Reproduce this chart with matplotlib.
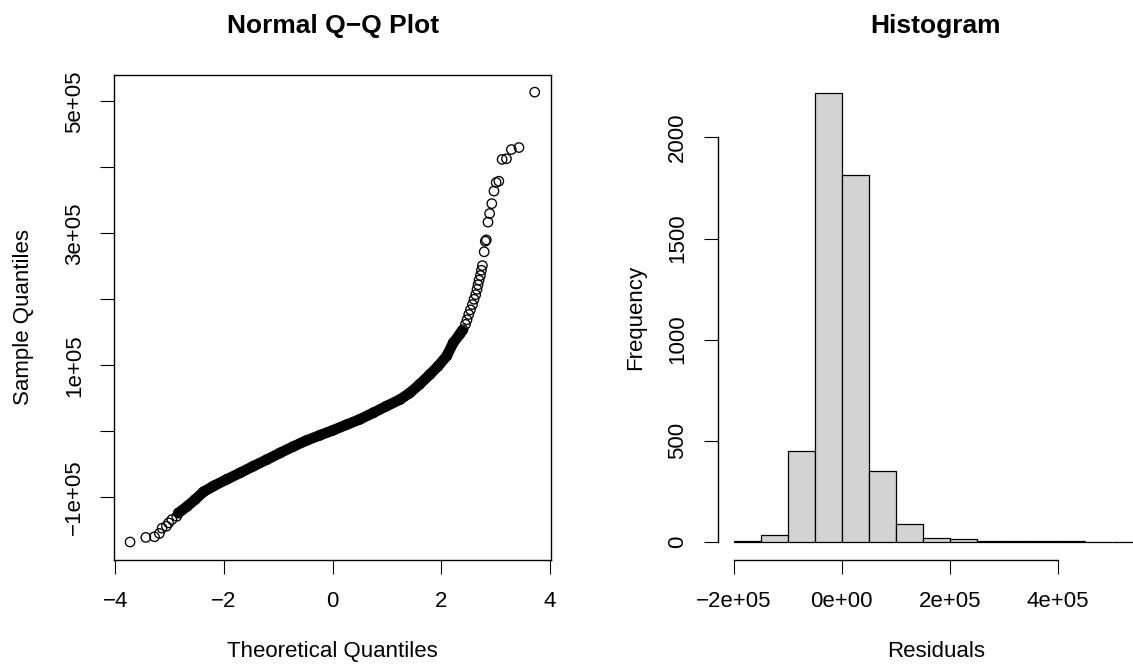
import numpy as np
import matplotlib
matplotlib.use('Agg')
import matplotlib.pyplot as plt

plt.rcParams['font.family'] = ['Liberation Sans', 'DejaVu Sans']

# Q-Q plot: points (theoretical, sample)
qq_lo_x = [-3.73, -3.44, -3.28, -3.19, -3.14, -3.06, -3.02, -2.96, -2.87]
qq_lo_y = [-1.68e5, -1.61e5, -1.60e5, -1.55e5, -1.47e5, -1.44e5, -1.39e5, -1.34e5, -1.29e5]

# dense middle part (where the circles merge into a band)
qq_core_x = [-2.84, -2.68, -2.53, -2.38, -2.19, -1.95, -1.70, -1.46, -1.21, -0.97,
             -0.72, -0.48, -0.23, 0.01, 0.26, 0.50, 0.75, 0.99, 1.24, 1.42,
             1.60, 1.79, 1.94, 2.10, 2.22, 2.34, 2.38]
qq_core_y = [-1.24e5, -1.14e5, -1.035e5, -0.92e5, -0.83e5, -0.73e5, -0.63e5, -0.53e5, -0.43e5, -0.33e5,
             -0.23e5, -0.14e5, -0.06e5, 0.015e5, 0.10e5, 0.18e5, 0.28e5, 0.38e5, 0.48e5, 0.58e5,
             0.71e5, 0.86e5, 0.985e5, 1.14e5, 1.34e5, 1.47e5, 1.52e5]

qq_hi_x = [2.40, 2.445, 2.474, 2.506, 2.537, 2.574, 2.603, 2.634, 2.658, 2.677, 2.695, 2.72,
           2.739, 2.757, 2.79, 2.81, 2.83, 2.86, 2.89, 2.93, 2.97, 3.01, 3.06, 3.12, 3.20,
           3.29, 3.43, 3.72]
qq_hi_y = [1.54e5, 1.62e5, 1.69e5, 1.77e5, 1.84e5, 1.92e5, 2.00e5, 2.07e5, 2.15e5, 2.22e5, 2.29e5, 2.36e5,
           2.44e5, 2.51e5, 2.72e5, 2.88e5, 2.90e5, 3.17e5, 3.30e5, 3.45e5, 3.64e5, 3.77e5, 3.79e5, 4.12e5, 4.13e5,
           4.27e5, 4.30e5, 5.14e5]

# histogram of residuals
bin_edges = [-200000, -150000, -100000, -50000, 0, 50000, 100000, 150000, 200000,
             250000, 300000, 350000, 400000, 450000, 500000, 550000]
counts = [2, 35, 451, 2220, 1816, 348, 87, 18, 13, 3, 2, 2, 2, 0, 1]

W, H = 1133, 671
fig = plt.figure(figsize=(W / 100, H / 100), dpi=100)

def fx(px):
    return px / W

def fy(py):
    return 1 - py / H

FS = 16
tick_len = 10

# ---- Q-Q plot ----
ax1 = fig.add_axes([fx(114.3), fy(559.7), (551 - 114.3) / W, (559.7 - 75) / H])
ax1.plot(qq_core_x, qq_core_y, color='black', lw=7.6,
         solid_capstyle='round', solid_joinstyle='round')
mk = dict(s=46, facecolors='none', edgecolors='black', linewidths=0.95)
ax1.scatter(qq_lo_x, qq_lo_y, **mk)
ax1.scatter(qq_core_x, qq_core_y, **mk)
ax1.scatter(qq_hi_x, qq_hi_y, **mk)
ax1.set_xlim(-4.02, 4.02)
ax1.set_ylim(-1.948e5, 5.40e5)
for s in ax1.spines.values():
    s.set_linewidth(1.0)
ax1.set_xticks([-4, -2, 0, 2, 4], ['\u22124', '\u22122', '0', '2', '4'], fontsize=FS)
ax1.set_yticks([-1e5, 0, 1e5, 2e5, 3e5, 4e5, 5e5],
               ['\u22121e+05', '', '1e+05', '', '3e+05', '', '5e+05'],
               fontsize=FS, rotation=90, va='center')
ax1.tick_params(axis='both', length=tick_len, width=0.8, direction='out')
ax1.tick_params(axis='x', pad=12.5)
ax1.tick_params(axis='y', pad=11)

# ---- Histogram ----
ax2 = fig.add_axes([fx(717.5), fy(559.7), 437.4 / W, (559.7 - 75) / H])
widths = np.diff(bin_edges)
ax2.bar(bin_edges[:-1], counts, width=widths, align='edge',
        color='#d3d3d3', edgecolor='black', linewidth=0.9)
ax2.set_xlim(-230000, 580000)
ax2.set_ylim(-88.8, 2308.8)
ax2.spines['top'].set_visible(False)
ax2.spines['right'].set_visible(False)
ax2.spines['left'].set_bounds(0, 2000)
ax2.spines['bottom'].set_bounds(-200000, 400000)
ax2.spines['left'].set_linewidth(1.0)
ax2.spines['bottom'].set_linewidth(1.0)
ax2.set_xticks([-200000, 0, 200000, 400000],
               ['\u22122e+05', '0e+00', '2e+05', '4e+05'], fontsize=FS)
ax2.set_yticks([0, 500, 1000, 1500, 2000], ['0', '500', '1000', '1500', '2000'],
               fontsize=FS, rotation=90, va='center')
ax2.tick_params(axis='both', length=tick_len, width=0.8, direction='out')
ax2.tick_params(axis='x', pad=12.5)
ax2.tick_params(axis='y', pad=11)

# ---- titles and axis labels ----
fig.text(fx(332.7), fy(32.6), 'Normal Q\u2212Q Plot', fontsize=19, fontweight='bold',
         ha='center', va='baseline')
fig.text(fx(936), fy(32.6), 'Histogram', fontsize=19, fontweight='bold',
         ha='center', va='baseline')
fig.text(fx(332.7), fy(657), 'Theoretical Quantiles', fontsize=FS, ha='center', va='baseline')
fig.text(fx(936), fy(657), 'Residuals', fontsize=FS, ha='center', va='baseline')
fig.text(fx(28.6), fy(317.4), 'Sample Quantiles', fontsize=FS, rotation=90,
         rotation_mode='anchor', ha='center', va='baseline')
fig.text(fx(641), fy(317.4), 'Frequency', fontsize=FS, rotation=90,
         rotation_mode='anchor', ha='center', va='baseline')

fig.savefig('out.png', dpi=100, facecolor='white')
